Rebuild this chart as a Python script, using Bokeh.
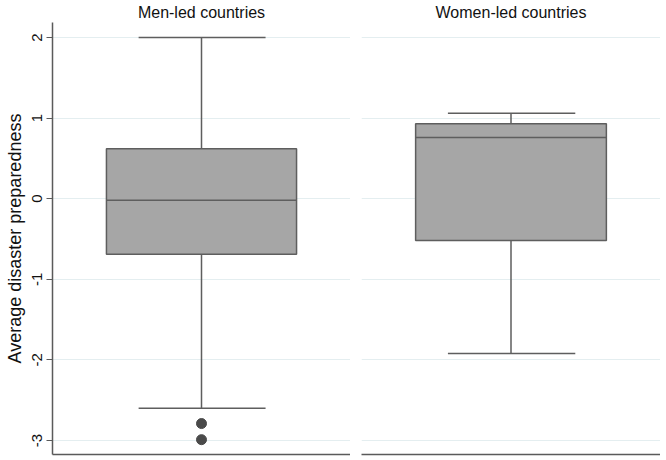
from bokeh.plotting import figure
from bokeh.layouts import row
from bokeh.models import ColumnDataSource, FixedTicker, Range1d
from bokeh.embed import file_html
from bokeh.resources import INLINE

# ---- data ----
groups = ["Men-led countries", "Women-led countries"]
lower_whisker = [-2.60, -1.92]
q1 = [-0.69, -0.52]
median = [-0.02, 0.76]
q3 = [0.62, 0.93]
upper_whisker = [2.00, 1.06]
outliers = [[-2.79, -2.99], []]
y_ticks = [-3, -2, -1, 0, 1, 2]
y_tick_labels = ["-3", "-2", "-1", "0", "1", "2"]
y_label = "Average disaster preparedness"

FONT = "Liberation Sans"
AXIS_COL = "#5a5a5a"
BOX_LINE = "#5e5e5e"
BOX_FILL = "#a6a6a6"
GRID_COL = "#e4eef0"

BOX_L, BOX_R = 0.181, 0.819
CAP_L, CAP_R = 0.289, 0.715
MID = 0.5


def make_panel(i, with_yaxis):
    p = figure(
        x_range=Range1d(0, 1),
        y_range=Range1d(-3.174, 2.186),
        frame_width=298 if with_yaxis else 299,
        frame_height=432,
        output_backend="svg",
        toolbar_location=None,
        min_border_left=52 if with_yaxis else 11,
        min_border_right=0,
        min_border_top=0,
        min_border_bottom=2,
        background_fill_color="white",
        border_fill_color="white",
    )
    p.outline_line_color = None
    p.title.text = groups[i]
    p.title.align = "center"
    p.title.text_font = FONT
    p.title.text_font_style = "normal"
    p.title.text_font_size = "16px"
    p.title.text_color = "#111111"
    p.title.standoff = 3
    p.title.offset = 0

    p.xgrid.visible = False
    p.ygrid.ticker = FixedTicker(ticks=y_ticks)
    p.ygrid.grid_line_color = GRID_COL
    p.ygrid.grid_line_width = 1.2

    p.xaxis.ticker = FixedTicker(ticks=[])
    p.xaxis.major_label_text_font_size = "0px"
    p.xaxis.axis_line_color = AXIS_COL
    p.xaxis.axis_line_width = 1.5
    p.xaxis.major_tick_line_color = None
    p.xaxis.minor_tick_line_color = None

    if with_yaxis:
        ax = p.yaxis[0]
        ax.ticker = FixedTicker(ticks=y_ticks)
        ax.major_label_overrides = {t: s for t, s in zip(y_ticks, y_tick_labels)}
        ax.major_label_orientation = "vertical"
        ax.major_label_text_font = FONT
        ax.major_label_text_font_size = "15px"
        ax.major_label_text_color = "#111111"
        ax.axis_line_color = AXIS_COL
        ax.axis_line_width = 1.5
        ax.major_tick_line_color = AXIS_COL
        ax.major_tick_line_width = 1.2
        ax.major_tick_out = 6
        ax.major_tick_in = 0
        ax.minor_tick_line_color = None
        ax.major_label_standoff = 4
        ax.axis_label = y_label
        ax.axis_label_text_font = FONT
        ax.axis_label_text_font_style = "normal"
        ax.axis_label_text_font_size = "18px"
        ax.axis_label_text_color = "#111111"
        ax.axis_label_standoff = 5
    else:
        p.yaxis.visible = False

    src = ColumnDataSource(dict(
        lw=[lower_whisker[i]], q1=[q1[i]], med=[median[i]],
        q3=[q3[i]], uw=[upper_whisker[i]],
    ))
    # whiskers
    p.segment(x0=MID, x1=MID, y0="q3", y1="uw", source=src,
              line_color=BOX_LINE, line_width=1.5)
    p.segment(x0=MID, x1=MID, y0="lw", y1="q1", source=src,
              line_color=BOX_LINE, line_width=1.5)
    p.segment(x0=CAP_L, x1=CAP_R, y0="uw", y1="uw", source=src,
              line_color=BOX_LINE, line_width=1.5)
    p.segment(x0=CAP_L, x1=CAP_R, y0="lw", y1="lw", source=src,
              line_color=BOX_LINE, line_width=1.5)
    # box
    p.quad(left=BOX_L, right=BOX_R, bottom="q1", top="q3", source=src,
           fill_color=BOX_FILL, line_color=BOX_LINE, line_width=1.5)
    p.segment(x0=BOX_L, x1=BOX_R, y0="med", y1="med", source=src,
              line_color=BOX_LINE, line_width=1.5)
    # outliers
    if outliers[i]:
        osrc = ColumnDataSource(dict(x=[MID] * len(outliers[i]), y=outliers[i]))
        p.scatter(x="x", y="y", source=osrc, size=10,
                  fill_color="#4a4a4a", line_color="#4a4a4a")
    return p


p1 = make_panel(0, True)
p2 = make_panel(1, False)
layout = row(p1, p2, spacing=0)

open("out.html", "w").write(file_html(layout, INLINE))
